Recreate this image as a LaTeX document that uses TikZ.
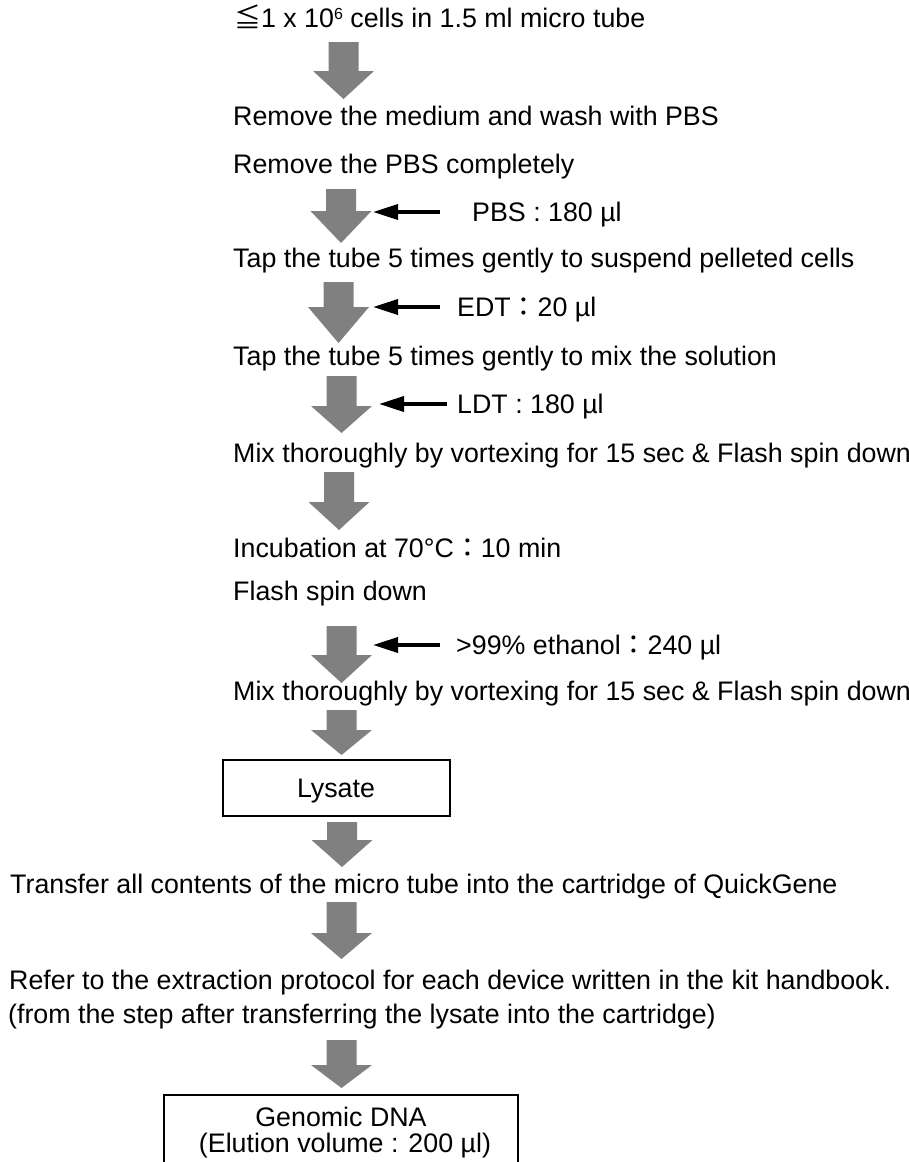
\documentclass[tikz,border=0pt]{standalone}
\usepackage{fontspec}
\setmainfont{Liberation Sans}
\newfontfamily\jpfont{Noto Sans CJK JP}
\usetikzlibrary{arrows.meta}
\definecolor{arrowgray}{HTML}{808080}
\newcommand\fwcolon{{\jpfont ：}}
\newcommand\grayarrow[4]{% cx, top, headbase, tip
  \fill[arrowgray] (#1-15,#2) -- (#1+15,#2) -- (#1+15,#3) -- (#1+30.5,#3)
    -- (#1,#4) -- (#1-30.5,#3) -- (#1-15,#3) -- cycle;}
\tikzset{
  txt/.style={anchor=base west, inner sep=0pt, font=\fontsize{26.8}{30}\selectfont},
  ctxt/.style={anchor=base, inner sep=0pt, font=\fontsize{26.8}{30}\selectfont},
  addarrow/.style={line width=3.6pt, -{Triangle[length=25pt,width=15pt]}},
  boxstyle/.style={draw, line width=1.3pt},
}
\begin{document}
\begin{tikzpicture}[x=1pt,y=-1pt]
\useasboundingbox (0,0) rectangle (909,1162);
\clip (0,0) rectangle (909,1162);
\fill[white] (0,0) rectangle (909,1162);

\node[txt] (s1) at (234,27) {{\jpfont ≦}1 x 10\raisebox{0.55ex}{\fontsize{16}{16}\selectfont 6} cells in 1.5 ml micro tube};
\grayarrow{343.5}{42}{71}{99}
\node[txt] (s2) at (233,125) {Remove the medium and wash with PBS};
\node[txt] (s3) at (233,173) {Remove the PBS completely};
\grayarrow{341}{189}{211}{243}
\coordinate (pbsT) at (440,212); \coordinate (pbsH) at (373,212);
\draw[addarrow] (pbsT) -- (pbsH);
\node[txt] (pbs) at (472,221) {PBS : 180 µl};
\node[txt] (s4) at (233,267) {Tap the tube 5 times gently to suspend pelleted cells};
\grayarrow{338.5}{282}{307}{343}
\coordinate (edtT) at (440,307); \coordinate (edtH) at (373,307);
\draw[addarrow] (edtT) -- (edtH);
\node[txt] (edt) at (457,316) {EDT\fwcolon 20 µl};
\node[txt] (s5) at (233,365) {Tap the tube 5 times gently to mix the solution};
\grayarrow{341.5}{376}{406}{433}
\coordinate (ldtT) at (447,404); \coordinate (ldtH) at (379,404);
\draw[addarrow] (ldtT) -- (ldtH);
\node[txt] (ldt) at (457,413) {LDT : 180 µl};
\node[txt] (s6) at (233,462) {Mix thoroughly by vortexing for 15 sec \& Flash spin down};
\grayarrow{339}{472}{502}{530}
\node[txt] (s7) at (233,557) {Incubation at 70°C\fwcolon 10 min};
\node[txt] (s8) at (233,600) {Flash spin down};
\grayarrow{341.5}{626}{655}{683}
\coordinate (ethT) at (440,645); \coordinate (ethH) at (373,645);
\draw[addarrow] (ethT) -- (ethH);
\node[txt] (eth) at (456,654) {>99\% ethanol\fwcolon 240 µl};
\node[txt] (s9) at (233,700) {Mix thoroughly by vortexing for 15 sec \& Flash spin down};
\grayarrow{341.5}{710}{730}{755}
\draw[boxstyle] (223,760) rectangle (450,816);
\node[ctxt] (lys) at (336,797) {Lysate};
\grayarrow{342}{822}{840}{867}
\node[txt] (s10) at (10,893) {Transfer all contents of the micro tube into the cartridge of QuickGene};
\grayarrow{341.5}{902}{933}{959}
\node[txt] (s11) at (9,989) {Refer to the extraction protocol for each device written in the kit handbook.};
\node[txt] (s12) at (8,1023) {(from the step after transferring the lysate into the cartridge)};
\grayarrow{341.5}{1040}{1065}{1088}
\draw[boxstyle] (164,1175) -- (164,1095) -- (518,1095) -- (518,1175);
\node[ctxt] (dna1) at (341,1126) {Genomic DNA};
\node[ctxt] (dna2) at (345,1152) {(Elution volume : 200 µl)};
\end{tikzpicture}
\end{document}
